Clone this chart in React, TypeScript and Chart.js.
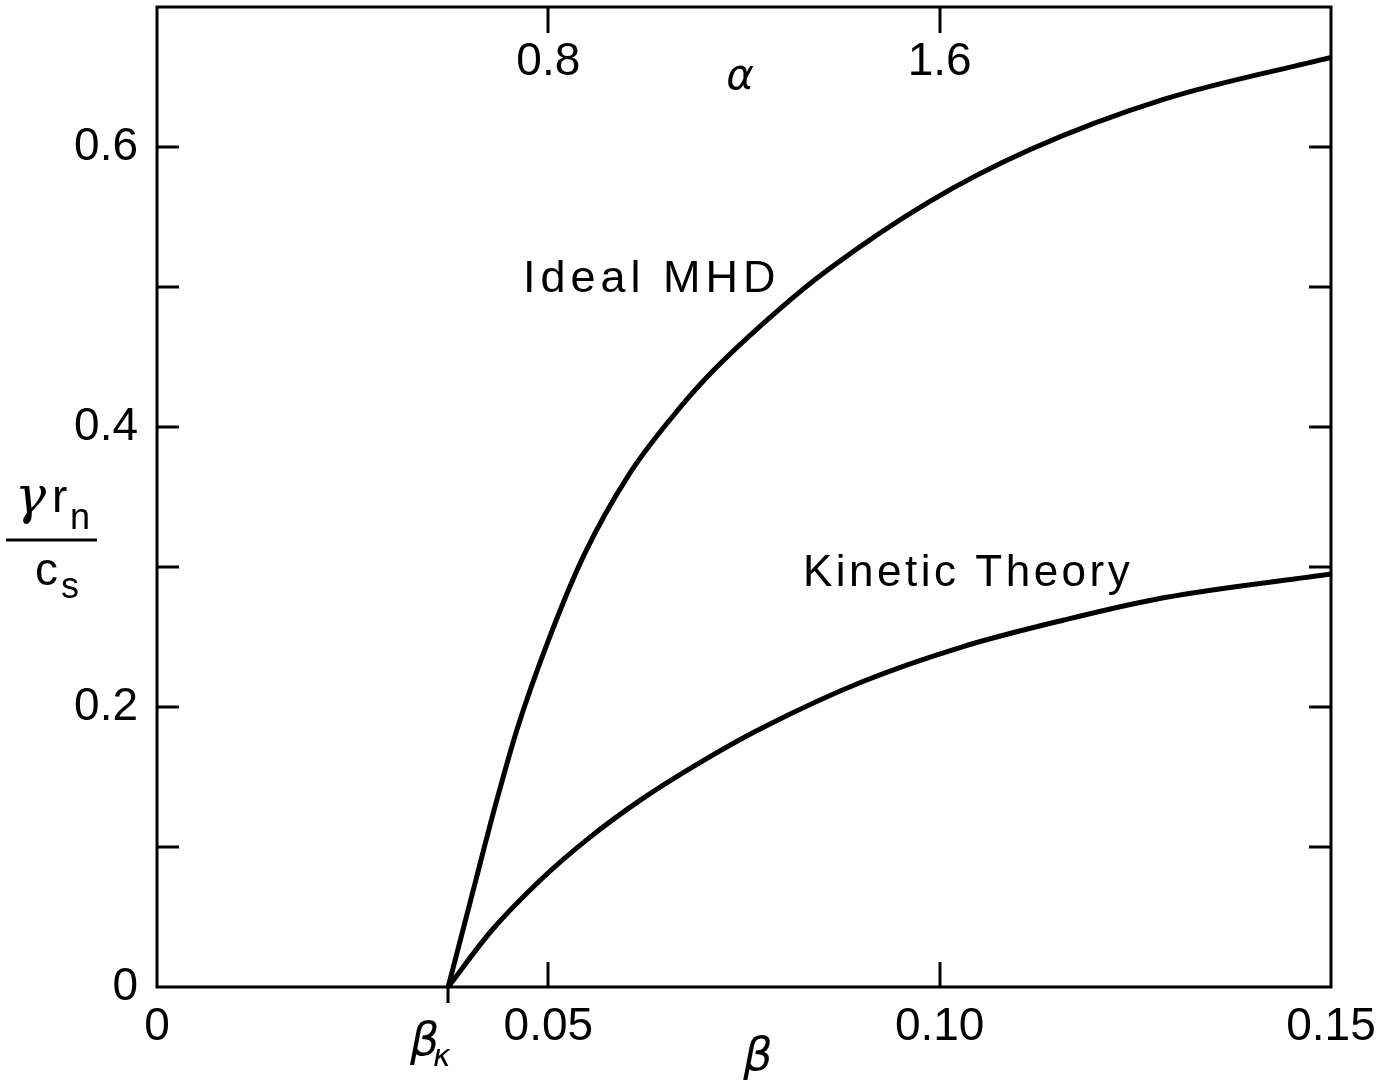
import React, { useEffect, useRef } from "react";
import { Chart, registerables } from "chart.js";

Chart.register(...registerables);

// Growth rate γ r_n / c_s versus β
const idealBeta = [0.0372, 0.0404, 0.0431, 0.046, 0.0499, 0.0546, 0.0603, 0.0658, 0.0705, 0.0795, 0.0859, 0.0987, 0.1115, 0.1286, 0.15];
const idealGrowth = [0, 0.069, 0.127, 0.184, 0.246, 0.309, 0.366, 0.407, 0.437, 0.484, 0.513, 0.561, 0.598, 0.634, 0.664];

const kineticBeta = [0.0372, 0.0427, 0.0491, 0.0551, 0.0619, 0.0705, 0.0773, 0.0901, 0.1029, 0.1158, 0.1286, 0.15];
const kineticGrowth = [0, 0.04, 0.077, 0.106, 0.134, 0.164, 0.185, 0.218, 0.243, 0.262, 0.278, 0.295];

// Critical beta where both curves start
const betaKappa = 0.0372;

// Axis ticks
const betaTicks = [0, 0.05, 0.1, 0.15];
const betaTickLabels = ["0", "0.05", "0.10", "0.15"];
const betaInnerTicks = [0.05, 0.1];
const growthTicks = [0, 0.2, 0.4, 0.6];
const growthTickLabels = ["0", "0.2", "0.4", "0.6"];
const growthMarks = [0.1, 0.2, 0.3, 0.4, 0.5, 0.6];
const alphaTicks = [0.8, 1.6];
const alphaTickLabels = ["0.8", "1.6"];

const SANS = '"Liberation Sans", Arial, sans-serif';

const zeroPadding = (s: any) => {
  s.paddingTop = 0;
  s.paddingBottom = 0;
  s.paddingLeft = 0;
  s.paddingRight = 0;
};

const framePlugin = {
  id: "frameAndNotes",
  afterDatasetsDraw(chart: any) {
    const { ctx, chartArea: a, scales } = chart;
    const xs = scales.x;
    const ys = scales.y;
    const as = scales.alpha;
    ctx.save();
    ctx.strokeStyle = "#000";
    ctx.fillStyle = "#000";
    ctx.lineWidth = 3;
    ctx.lineCap = "butt";
    ctx.strokeRect(a.left, a.top, a.right - a.left, a.bottom - a.top);

    ctx.beginPath();
    for (const v of growthMarks) {
      const py = Math.round(ys.getPixelForValue(v));
      ctx.moveTo(a.left, py);
      ctx.lineTo(a.left + 22, py);
      ctx.moveTo(a.right, py);
      ctx.lineTo(a.right - 22, py);
    }
    for (const v of betaInnerTicks) {
      const px = Math.round(xs.getPixelForValue(v));
      ctx.moveTo(px, a.bottom);
      ctx.lineTo(px, a.bottom - 25);
    }
    for (const v of alphaTicks) {
      const px = Math.round(as.getPixelForValue(v));
      ctx.moveTo(px, a.top);
      ctx.lineTo(px, a.top + 26);
    }
    const kx = Math.round(xs.getPixelForValue(betaKappa));
    ctx.moveTo(kx, a.bottom);
    ctx.lineTo(kx, a.bottom + 16);
    ctx.stroke();

    // top α axis labels
    ctx.font = `46px ${SANS}`;
    ctx.textAlign = "center";
    ctx.textBaseline = "middle";
    alphaTicks.forEach((v, i) => {
      ctx.fillText(alphaTickLabels[i], as.getPixelForValue(v), 62);
    });
    ctx.font = `italic 42px "DejaVu Sans", sans-serif`;
    ctx.fillText("α", 740, 78);

    // β axis title and β_κ marker
    ctx.font = `italic 46px "DejaVu Sans", sans-serif`;
    ctx.fillText("β", 758, 1058);
    ctx.textAlign = "left";
    ctx.fillText("β", kx - 38, 1043);
    ctx.font = `italic 30px "DejaVu Sans", sans-serif`;
    ctx.fillText("κ", kx - 15, 1058);

    // curve names
    ctx.textBaseline = "alphabetic";
    (ctx as any).letterSpacing = "5px";
    ctx.font = `45px ${SANS}`;
    ctx.fillText("Ideal MHD", 523, 292);
    (ctx as any).letterSpacing = "3.5px";
    ctx.font = `44px ${SANS}`;
    ctx.fillText("Kinetic Theory", 803, 586);
    (ctx as any).letterSpacing = "0px";

    // y axis title: γ r_n / c_s
    ctx.font = `italic 52px "DejaVu Serif", serif`;
    ctx.fillText("γ", 15, 513);
    ctx.font = `46px ${SANS}`;
    ctx.fillText("r", 52, 512);
    ctx.font = `36px ${SANS}`;
    ctx.fillText("n", 70, 529);
    ctx.beginPath();
    ctx.moveTo(6, 540);
    ctx.lineTo(97, 540);
    ctx.stroke();
    ctx.font = `46px ${SANS}`;
    ctx.fillText("c", 35, 585);
    ctx.font = `36px ${SANS}`;
    ctx.fillText("s", 61, 598);

    ctx.restore();
  },
};

export default function App() {
  const canvasRef = useRef<HTMLCanvasElement | null>(null);

  useEffect(() => {
    const canvas = canvasRef.current;
    if (!canvas) return;
    const chart = new Chart(canvas, {
      type: "line",
      data: {
        datasets: [
          {
            label: "Ideal MHD",
            data: idealBeta.map((b, i) => ({ x: b, y: idealGrowth[i] })),
            borderColor: "#000",
            borderWidth: 5,
            pointRadius: 0,
            fill: false,
            cubicInterpolationMode: "monotone",
          },
          {
            label: "Kinetic Theory",
            data: kineticBeta.map((b, i) => ({ x: b, y: kineticGrowth[i] })),
            borderColor: "#000",
            borderWidth: 5,
            pointRadius: 0,
            fill: false,
            cubicInterpolationMode: "monotone",
          },
        ],
      },
      options: {
        responsive: false,
        animation: false,
        devicePixelRatio: 1,
        layout: { padding: { left: 0, right: 67, top: 0, bottom: 0 } },
        plugins: {
          legend: { display: false },
          tooltip: { enabled: false },
        },
        scales: {
          x: {
            type: "linear",
            position: "bottom",
            min: 0,
            max: 0.15,
            grid: { display: false, drawTicks: false },
            border: { display: false },
            afterBuildTicks: (s: any) => {
              s.ticks = betaTicks.map((v) => ({ value: v }));
            },
            afterFit: (s: any) => {
              s.height = 100;
              zeroPadding(s);
            },
            ticks: {
              autoSkip: false,
              maxRotation: 0,
              padding: 13,
              color: "#000",
              font: { family: SANS, size: 46 },
              callback: (v: any) => {
                const i = betaTicks.findIndex((t) => Math.abs(t - Number(v)) < 1e-9);
                return i >= 0 ? betaTickLabels[i] : "";
              },
            },
          },
          alpha: {
            type: "linear",
            position: "top",
            min: 0,
            max: 2.4,
            grid: { display: false, drawTicks: false },
            border: { display: false },
            ticks: { display: false },
            afterFit: (s: any) => {
              s.height = 7;
              zeroPadding(s);
            },
          },
          y: {
            type: "linear",
            position: "left",
            min: 0,
            max: 0.7,
            grid: { display: false, drawTicks: false },
            border: { display: false },
            afterBuildTicks: (s: any) => {
              s.ticks = growthTicks.map((v) => ({ value: v }));
            },
            afterFit: (s: any) => {
              s.width = 157;
              zeroPadding(s);
            },
            ticks: {
              padding: 19,
              color: "#000",
              font: { family: SANS, size: 46 },
              callback: (v: any) => {
                const i = growthTicks.findIndex((t) => Math.abs(t - Number(v)) < 1e-9);
                return i >= 0 ? growthTickLabels[i] : "";
              },
            },
          },
        },
      },
      plugins: [framePlugin],
    } as any);
    return () => chart.destroy();
  }, []);

  return (
    <div style={{ position: "absolute", left: 0, top: 0, width: 1398, height: 1087, background: "#fff" }}>
      <canvas ref={canvasRef} width={1398} height={1087} style={{ display: "block" }} />
    </div>
  );
}
